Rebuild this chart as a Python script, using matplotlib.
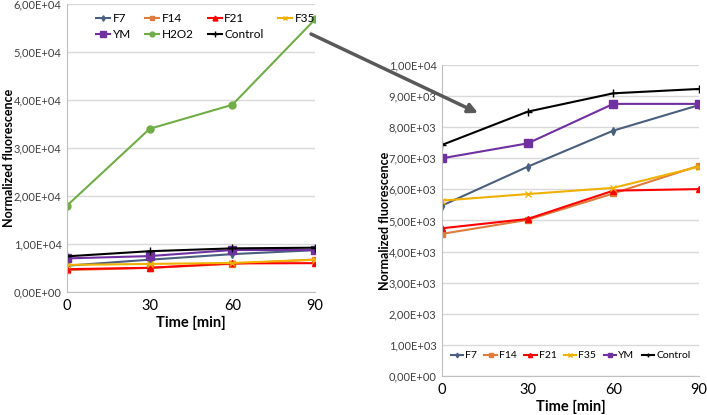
import matplotlib.pyplot as plt
from matplotlib.patches import FancyArrowPatch

plt.rcParams["font.family"] = ["Lato", "DejaVu Sans"]

times = [0, 30, 60, 90]
f7 = [5480, 6730, 7890, 8710]
f14 = [4570, 5020, 5870, 6760]
f21 = [4750, 5050, 5960, 6010]
f35 = [5640, 5850, 6050, 6730]
ym = [7000, 7480, 8750, 8750]
h2o2 = [18000, 34000, 39000, 56800]
control = [7430, 8500, 9090, 9230]

left_ticks = [0, 10000, 20000, 30000, 40000, 50000, 60000]
right_ticks = [0, 1000, 2000, 3000, 4000, 5000, 6000, 7000, 8000, 9000, 10000]

styles = {
    "F7": dict(color="#4A5E7E", marker="d", ms=4),
    "F14": dict(color="#E07B39", marker="s", ms=4),
    "F21": dict(color="#FF0000", marker="^", ms=5),
    "F35": dict(color="#F0B000", marker="x", ms=5),
    "YM": dict(color="#7030A0", marker="s", ms=6),
    "H2O2": dict(color="#70AD47", marker="o", ms=5),
    "Control": dict(color="#000000", marker="+", ms=6),
}


def sci(v):
    s = "%.2E" % v
    return s.replace(".", ",")


def style_axes(ax, ticks):
    ax.set_xlim(0, 90)
    ax.set_xticks(times)
    ax.set_ylim(ticks[0], ticks[-1])
    ax.set_yticks(ticks)
    ax.set_yticklabels([sci(t) for t in ticks], fontsize=8, color="#404040")
    ax.tick_params(axis="x", labelsize=10.5, length=0, pad=5)
    ax.tick_params(axis="y", length=0, pad=4)
    ax.grid(axis="y", color="#D9D9D9", lw=1)
    ax.set_axisbelow(True)
    for s in ["top", "right"]:
        ax.spines[s].set_visible(False)
    ax.spines["left"].set_color("#BFBFBF")
    ax.spines["bottom"].set_color("#BFBFBF")
    ax.set_xlabel("Time [min]", fontsize=10.5, fontweight="bold", labelpad=2)
    ax.set_ylabel("Normalized fluorescence", fontsize=9, fontweight="bold")


W, H = 707, 415
fig = plt.figure(figsize=(W / 100, H / 100), dpi=100)
ax1 = fig.add_axes([67 / W, 1 - 292 / H, (315 - 67) / W, (292 - 4) / H])
ax2 = fig.add_axes([442 / W, 1 - 376 / H, (699 - 442) / W, (376 - 65) / H])

left_series = [("F7", f7), ("F14", f14), ("F21", f21), ("F35", f35),
               ("YM", ym), ("H2O2", h2o2), ("Control", control)]
lines = {}
for name, vals in left_series:
    st = styles[name]
    lines[name], = ax1.plot(times, vals, color=st["color"], marker=st["marker"],
                            ms=st["ms"], lw=1.5, label=name)
style_axes(ax1, left_ticks)
ax1.yaxis.set_label_coords(-0.21, 0.465)
order = ["F7", "YM", "F14", "H2O2", "F21", "Control", "F35"]
ax1.legend([lines[n] for n in order], order, ncol=4, loc="upper left",
           bbox_to_anchor=(0.08, 1.0), frameon=False, fontsize=8.5,
           handlelength=1.2, handletextpad=0.2, columnspacing=1.2,
           labelspacing=0.4, markerscale=0.7, borderpad=0.3)

right_series = [("F7", f7), ("F14", f14), ("F21", f21), ("F35", f35),
                ("YM", ym), ("Control", control)]
for name, vals in right_series:
    st = styles[name]
    ax2.plot(times, vals, color=st["color"], marker=st["marker"],
             ms=st["ms"], lw=1.5, label=name)
style_axes(ax2, right_ticks)
ax2.yaxis.set_label_coords(-0.2, 0.5)
ax2.legend(ncol=6, loc="lower center", bbox_to_anchor=(0.5, 0.02),
           frameon=False, fontsize=7.5, handlelength=1.2, handletextpad=0.2,
           columnspacing=0.7, markerscale=0.6)

arrow = FancyArrowPatch((311 / W, 1 - 34 / H), (478 / W, 1 - 113 / H),
                        transform=fig.transFigure, arrowstyle="-|>",
                        color="#595959", lw=2.5, mutation_scale=14,
                        shrinkA=0, shrinkB=0)
fig.add_artist(arrow)

fig.savefig("out.png", dpi=100)
